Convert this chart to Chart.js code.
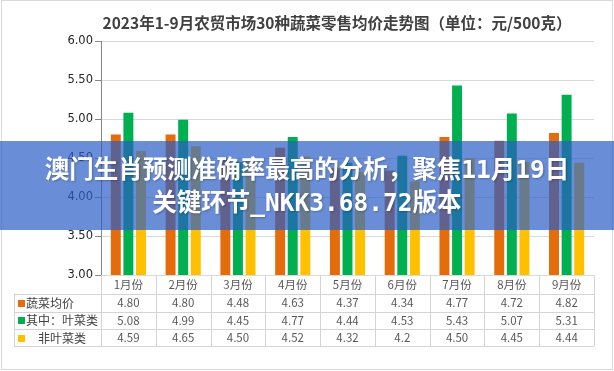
<!DOCTYPE html>
<html>
<head>
<meta charset="utf-8">
<script src="https://cdn.jsdelivr.net/npm/chart.js@4.4.0/dist/chart.umd.min.js"></script>
<style>
    html, body { margin: 0; padding: 0; background: #fff; }
    #wrap { position: relative; width: 614px; height: 371px; }
    #chart { display: block; }
    #banner {
        position: absolute; left: 0; top: 141px; width: 614px; height: 89px;
        box-sizing: border-box; padding-top: 12px;
        background: rgba(42, 92, 196, 0.7);
        color: #fff; font: bold 24.5px "DejaVu Sans Mono", "Noto Sans CJK SC", sans-serif;
        line-height: 33px; text-align: center; white-space: nowrap;
        text-shadow: 1px 1px 2px rgba(0, 0, 0, 0.25);
    }
</style>
</head>
<body>
<div id="wrap">
    <canvas id="chart" width="614" height="371"></canvas>
    <div id="banner">澳门生肖预测准确率最高的分析，聚焦11月19日<br>关键环节_NKK3.68.72版本</div>
</div>
<script>
// Data (as printed in the table under the chart)
const title = '2023年1-9月农贸市场30种蔬菜零售均价走势图（单位：元/500克）';
const months = ['1月份', '2月份', '3月份', '4月份', '5月份', '6月份', '7月份', '8月份', '9月份'];
const seriesNames = ['蔬菜均价', '其中：叶菜类', '非叶菜类'];
const avgPrice = ['4.80', '4.80', '4.48', '4.63', '4.37', '4.34', '4.77', '4.72', '4.82'];
const leafy = ['5.08', '4.99', '4.45', '4.77', '4.44', '4.53', '5.43', '5.07', '5.31'];
const nonLeafy = ['4.59', '4.65', '4.50', '4.52', '4.32', '4.2', '4.50', '4.45', '4.44'];
const yMin = 3, yMax = 6, yStep = 0.5;

const colors = ['#E46C0A', '#00B050', '#FFC000'];
const series = [avgPrice, leafy, nonLeafy];

// Title, data table and outer frame
const tablePlugin = {
    id: 'dataTable',
    afterDraw(chart) {
        const ctx = chart.ctx;
        const area = chart.chartArea;
        const xs = chart.scales.x;
        const colW = (area.right - area.left) / months.length;
        const rowY = [area.bottom, area.bottom + 18.5, area.bottom + 36.5, area.bottom + 54, area.bottom + 71];
        const tableLeft = 14;
        const px = v => Math.round(v) + 0.5;

        ctx.save();

        // title
        ctx.fillStyle = '#404040';
        ctx.font = 'bold 15.5px "Noto Sans CJK SC"';
        ctx.textAlign = 'center';
        ctx.textBaseline = 'middle';
        ctx.fillText(title, 337, 23);

        // table lines
        ctx.strokeStyle = '#d4d4d4';
        ctx.lineWidth = 1;
        ctx.beginPath();
        for (let r = 1; r < rowY.length; r++) {
            ctx.moveTo(tableLeft, px(rowY[r]));
            ctx.lineTo(area.right, px(rowY[r]));
        }
        for (let i = 0; i <= months.length; i++) {
            const x = px(area.left + i * colW);
            ctx.moveTo(x, rowY[0]);
            ctx.lineTo(x, rowY[4]);
        }
        ctx.moveTo(px(tableLeft), rowY[1]);
        ctx.lineTo(px(tableLeft), rowY[4]);
        ctx.stroke();

        // category header
        ctx.fillStyle = '#595959';
        ctx.font = '11.5px "Noto Sans CJK SC"';
        months.forEach((m, i) => {
            ctx.fillText(m, xs.getPixelForValue(i), (rowY[0] + rowY[1]) / 2);
        });

        // values
        series.forEach((vals, s) => {
            const cy = (rowY[s + 1] + rowY[s + 2]) / 2;
            vals.forEach((v, i) => {
                ctx.fillText(v, xs.getPixelForValue(i), cy);
            });
        });

        // row headers with colour keys
        ctx.textAlign = 'left';
        ctx.font = '12px "Noto Sans CJK SC"';
        seriesNames.forEach((name, s) => {
            const cy = (rowY[s + 1] + rowY[s + 2]) / 2;
            ctx.fillStyle = colors[s];
            ctx.fillRect(18, Math.round(cy) - 3, 7, 7);
            ctx.fillStyle = '#404040';
            ctx.fillText(name, s === 2 ? 38 : 26, cy + 0.5);
        });

        // outer frame
        ctx.strokeStyle = '#d9d9d9';
        ctx.strokeRect(1.5, 0.5, 611, 369);

        ctx.restore();
    }
};

const ctx = document.getElementById('chart').getContext('2d');
const chart = new Chart(ctx, {
    type: 'bar',
    data: {
        labels: months,
        datasets: series.map((vals, s) => ({
            label: seriesNames[s],
            data: vals,
            backgroundColor: colors[s],
            borderWidth: 0
        }))
    },
    options: {
        responsive: false,
        animation: false,
        layout: { padding: { top: 41, right: 20, left: 0, bottom: 0 } },
        datasets: { bar: { barPercentage: 0.79, categoryPercentage: 0.69 } },
        plugins: {
            legend: { display: false },
            tooltip: { enabled: false },
            title: { display: false }
        },
        scales: {
            x: {
                ticks: { display: false },
                grid: { display: false },
                border: { display: false },
                afterFit(scale) { scale.height = 96; }
            },
            y: {
                min: yMin,
                max: yMax,
                ticks: {
                    stepSize: yStep,
                    padding: 2,
                    color: '#262626',
                    font: { family: 'DejaVu Sans', size: 11.5 },
                    callback: v => v.toFixed(2)
                },
                grid: { color: '#d9d9d9', tickLength: 6, tickColor: '#868686' },
                border: { color: '#868686' },
                afterFit(scale) { scale.width = 101; }
            }
        }
    },
    plugins: [tablePlugin]
});
</script>
</body>
</html>
